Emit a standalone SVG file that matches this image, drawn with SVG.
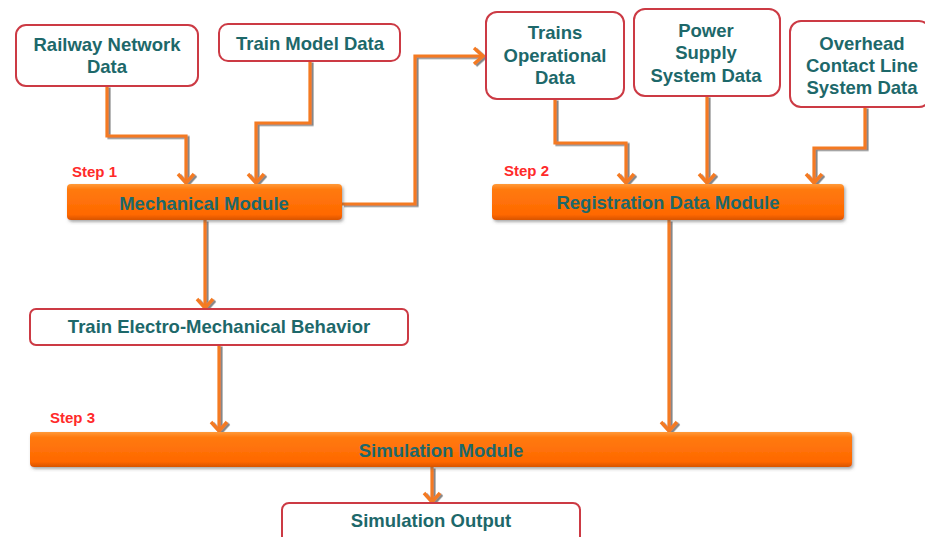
<svg xmlns="http://www.w3.org/2000/svg" width="925" height="537" viewBox="0 0 925 537">
<defs>
<style>
.box{fill:#fff;stroke:#cc3a44;stroke-width:2}
.bar{fill:url(#og);filter:url(#sh)}
.t{font-family:"Liberation Sans",Arial,sans-serif;font-weight:bold;font-size:18.5px;fill:#1d686a;text-anchor:middle}
.step{font-family:"Liberation Sans",Arial,sans-serif;font-weight:bold;font-size:15px;fill:#ff2a2a}
.c{fill:none;stroke:#f47a20;stroke-width:3.2;marker-end:url(#ah)}
</style>
<linearGradient id="og" x1="0" y1="0" x2="0" y2="1">
<stop offset="0" stop-color="#ff9a3a"/>
<stop offset="0.15" stop-color="#ff7a10"/>
<stop offset="0.85" stop-color="#ff6800"/>
<stop offset="1" stop-color="#d85400"/>
</linearGradient>
<filter id="sh" x="-5%" y="-20%" width="110%" height="150%">
<feDropShadow dx="1.5" dy="2" stdDeviation="1.5" flood-color="#555" flood-opacity="0.5"/>
</filter>
<filter id="lsh" x="-20%" y="-20%" width="140%" height="140%">
<feDropShadow dx="2" dy="1.5" stdDeviation="0.6" flood-color="#555" flood-opacity="0.7"/>
</filter>
<marker id="ah" markerUnits="userSpaceOnUse" markerWidth="22" markerHeight="22" refX="11" refY="11" orient="auto">
<path d="M2,3 L11,11 L2,19" fill="none" stroke="#f47a20" stroke-width="3.4"/>
</marker>
</defs>

<g id="connectors" filter="url(#lsh)">
<path class="c" d="M107,86 V136 H186 V183"/>
<path class="c" d="M310,61 V123 H256 V183"/>
<path class="c" d="M342,204 H415 V56 H483"/>
<path class="c" d="M555,99 V143 H626 V183"/>
<path class="c" d="M707,96 V183"/>
<path class="c" d="M865,107 V148 H814 V183"/>
<path class="c" d="M205,220 V308"/>
<path class="c" d="M219,345 V431"/>
<path class="c" d="M669,220 V431"/>
<path class="c" d="M432,467 V502"/>
</g>

<g id="railway">
<rect class="box" x="16" y="25" width="182" height="61" rx="10"/>
<text class="t" x="107" y="51">Railway Network</text>
<text class="t" x="107" y="73">Data</text>
</g>
<g id="trainmodel">
<rect class="box" x="219" y="24" width="181" height="37" rx="9"/>
<text class="t" x="310" y="50">Train Model Data</text>
</g>
<g id="step1"><text class="step" x="72" y="177">Step 1</text></g>
<g id="mechanical">
<rect class="bar" x="67" y="184" width="275" height="36" rx="4"/>
<text class="t" x="204" y="210">Mechanical Module</text>
</g>
<g id="trainsop">
<rect class="box" x="486" y="12" width="138" height="87" rx="11"/>
<text class="t" x="555" y="39">Trains</text>
<text class="t" x="555" y="62">Operational</text>
<text class="t" x="555" y="84">Data</text>
</g>
<g id="power">
<rect class="box" x="634" y="9" width="146" height="87" rx="11"/>
<text class="t" x="706" y="37">Power</text>
<text class="t" x="706" y="59">Supply</text>
<text class="t" x="706" y="82">System Data</text>
</g>
<g id="overhead">
<rect class="box" x="790" y="21" width="140" height="86" rx="11"/>
<text class="t" x="862" y="50">Overhead</text>
<text class="t" x="862" y="72">Contact Line</text>
<text class="t" x="862" y="94">System Data</text>
</g>
<g id="step2"><text class="step" x="504" y="176">Step 2</text></g>
<g id="registration">
<rect class="bar" x="492" y="184" width="352" height="36" rx="4"/>
<text class="t" x="668" y="209">Registration Data Module</text>
</g>
<g id="electro">
<rect class="box" x="30" y="309" width="378" height="36" rx="6"/>
<text class="t" x="219" y="333">Train Electro-Mechanical Behavior</text>
</g>
<g id="step3"><text class="step" x="50" y="423">Step 3</text></g>
<g id="simulation">
<rect class="bar" x="30" y="432" width="822" height="35" rx="4"/>
<text class="t" x="441" y="457">Simulation Module</text>
</g>
<g id="output">
<rect class="box" x="282" y="503" width="298" height="44" rx="7"/>
<text class="t" x="431" y="527">Simulation Output</text>
</g>
</svg>
